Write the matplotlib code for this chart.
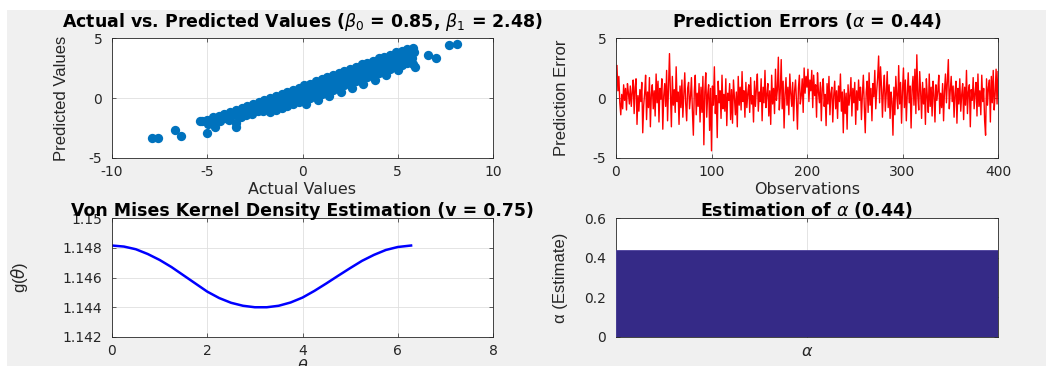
import numpy as np
import matplotlib
matplotlib.use("Agg")
import matplotlib.pyplot as plt
from matplotlib.patches import Rectangle

plt.rcParams['font.family'] = ['DejaVu Sans']
plt.rcParams['mathtext.fontset'] = 'dejavusans'
plt.rcParams['axes.unicode_minus'] = False

# actual vs predicted
actual_vals = [
    -5.3,
    -5.0, -4.95, -4.7, -4.65, -4.4, -4.35, -4.1, -4.05,
    -3.8, -3.75, -3.85, -3.5, -3.45, -3.2, -3.15, -3.25,
    -2.9, -2.85, -2.95, -2.6, -2.55, -2.65, -2.3, -2.25, -2.35,
    -2.0, -1.95, -2.05, -1.7, -1.65, -1.75, -1.7, -1.4, -1.35, -1.45, -1.4,
    -1.1, -1.05, -1.15, -1.1, -0.8, -0.75, -0.85, -0.8,
    -0.5, -0.45, -0.55, -0.5, -0.2, -0.15, -0.25, -0.2,
    0.1, 0.15, 0.05, 0.1, 0.2, 0.4, 0.45, 0.35, 0.4,
    0.7, 0.75, 0.65, 0.7, 0.8, 1.0, 1.05, 0.95, 1.0,
    1.3, 1.35, 1.25, 1.3, 1.4, 1.6, 1.65, 1.55, 1.6,
    1.9, 1.95, 1.85, 1.9, 2.0, 2.2, 2.25, 2.15, 2.2,
    2.5, 2.55, 2.45, 2.5, 2.6, 2.8, 2.85, 2.75, 2.8,
    3.1, 3.15, 3.05, 3.1, 3.2, 3.4, 3.45, 3.35, 3.4,
    3.7, 3.75, 3.65, 3.7, 3.8, 4.0, 4.05, 3.95, 4.0,
    4.3, 4.35, 4.25, 4.3, 4.4, 4.6, 4.65, 4.55, 4.6,
    4.9, 4.95, 4.85, 4.9, 5.0, 5.2, 5.25, 5.15, 5.2,
    5.5, 5.55, 5.45, 5.5, 5.8, 5.85, 5.75, 5.8,
    -7.9, -7.6, -6.7, -6.4, -5.0, -5.4, -4.6, -3.5, -3.5, 6.6, 7.0, 7.7, 8.1, 5.9,
]
predicted_vals = [
    -1.9,
    -1.85, -2.2, -1.6, -2.0, -1.5, -1.9, -1.3, -1.7,
    -1.15, -1.5, -1.8, -1.0, -1.4, -0.85, -1.2, -1.6,
    -0.7, -1.05, -1.4, -0.5, -0.9, -1.3, -0.35, -0.75, -1.1,
    -0.2, -0.6, -1.05, 0.0, -0.4, -0.8, -1.2, 0.15, -0.25, -0.65, -1.0,
    0.35, -0.05, -0.45, -0.85, 0.5, 0.1, -0.3, -0.7,
    0.7, 0.3, -0.1, -0.5, 0.85, 0.45, 0.05, -0.35,
    1.05, 0.65, 0.25, -0.15, -0.5, 1.2, 0.8, 0.4, 0.0,
    1.4, 1.0, 0.6, 0.2, -0.2, 1.55, 1.15, 0.75, 0.35,
    1.75, 1.35, 0.95, 0.55, 0.15, 1.9, 1.5, 1.1, 0.7,
    2.1, 1.7, 1.3, 0.9, 0.5, 2.25, 1.85, 1.45, 1.05,
    2.45, 2.05, 1.65, 1.25, 0.85, 2.6, 2.2, 1.8, 1.4,
    2.8, 2.4, 2.0, 1.6, 1.2, 2.95, 2.55, 2.15, 1.75,
    3.1, 2.7, 2.3, 1.9, 1.5, 3.3, 2.9, 2.5, 2.1,
    3.45, 3.05, 2.65, 2.25, 1.9, 3.6, 3.2, 2.8, 2.4,
    3.8, 3.4, 3.0, 2.6, 2.3, 3.95, 3.55, 3.15, 2.75,
    4.1, 3.7, 3.3, 2.9, 4.2, 3.8, 3.3, 2.8,
    -3.3, -3.3, -2.7, -3.2, -2.9, -1.9, -2.4, -2.1, -2.4, 3.6, 3.3, 4.4, 4.5, 2.6,
]

# prediction errors, observations 1..400
errors = [
    2.7, 0.6, 1.8, -0.4, -1.4, 0.3, -0.9, 1.1, -0.2, 0.8, -1.0, 1.2, 0.4, -0.5, 1.0, -0.7, 0.5, 1.5, -1.3, 0.9,
    1.6, -2.2, 0.2, -1.1, 0.7, -0.3, 1.3, -2.9, -0.6, 0.4, 1.9, -1.8, 0.5, -0.8, 1.7, -2.4, 0.3, 1.1, -0.9, 0.6,
    -1.5, 2.0, -0.4, 1.4, -2.0, 0.8, -0.1, 1.6, -2.6, 0.2, 1.2, -0.7, 2.3, -1.9, 0.9, 3.7, 0.4, -2.4, 1.8, -0.6,
    0.7, -1.2, 2.6, -0.3, 0.5, -2.2, 1.0, -0.8, 1.5, -1.6, 0.3, 2.1, -0.5, -1.9, 0.8, 1.3, -0.9, 0.1, 1.7, -1.1,
    -3.1, 0.6, 1.9, -1.4, 0.4, -0.7, 1.2, -2.0, 0.9, -1.2, 1.8, -3.9, 0.5, 2.1, -1.6, 0.3, 1.1, -2.7, 0.8, -4.4,
    1.0, -0.6, 2.6, -1.3, 0.2, -3.3, 1.4, -0.4, 0.6, -1.7, 1.9, -0.9, 0.3, -1.1, 1.6, -2.3, 0.4, -0.2, 1.2, -1.8,
    0.7, -2.1, 1.5, 0.1, -1.4, 0.5, -2.4, 1.8, -0.6, 0.9, -1.0, 2.2, -0.3, 0.6, -1.6, 1.3, -0.8, 0.4, 1.1, -1.2,
    1.7, -0.5, 0.2, -2.0, 1.4, -0.7, 0.8, 2.0, -1.1, 0.5, -0.3, 1.6, -1.9, 0.9, -0.4, 2.3, -0.8, 0.3, 1.2, -1.5,
    0.6, -2.2, 1.9, -0.5, 0.8, -1.3, 2.4, -0.2, 0.7, 3.4, -1.0, 0.5, 3.2, -0.9, 1.4, -2.5, 0.3, 1.7, -0.6, 0.9,
    -1.4, 2.0, 0.4, -0.7, 1.3, -1.9, 0.6, 1.5, -0.3, -2.6, 0.8, 1.9, -0.5, 0.2, 1.6, -1.2, 2.5, 0.4, 1.8, 0.9,
    2.4, -0.3, 1.5, 0.6, 2.3, -0.8, 1.9, 0.2, 1.1, -1.6, 2.1, 0.5, -0.4, 1.3, -1.9, 0.8, 1.6, -0.7, 0.3, -2.3,
    1.2, -0.5, 1.8, -1.4, 0.4, 0.9, -2.0, 0.2, 1.4, -0.9, 0.6, -1.7, 1.0, -0.3, 2.0, -1.1, 0.5, -2.9, 0.7, -1.3,
    0.4, -2.6, 1.1, -0.6, 0.2, 1.7, -1.5, 0.8, -0.4, 1.3, -2.2, 0.6, -1.0, 1.5, -0.2, 0.9, -1.8, 0.3, 1.9, -0.7,
    -2.9, 0.5, 1.4, -1.2, 2.1, -0.6, 0.8, -1.9, 1.2, 0.1, 2.3, -0.9, 0.6, 1.7, 3.5, -0.4, 2.6, 1.0, -1.6, 0.7,
    1.9, -1.1, 0.4, 2.2, -0.8, 1.1, -1.7, 0.5, -0.3, -3.1, 0.9, -1.4, 1.8, 0.2, -0.9, 2.7, -0.5, 1.3, -2.1, 0.6,
    2.5, -0.8, 1.5, -1.9, 0.3, 2.1, -0.4, 1.0, -2.5, 0.7, 1.8, -0.6, 2.4, -1.3, 3.6, 0.2, -1.0, 2.2, 0.5, -1.7,
    1.3, -0.5, 0.8, -2.2, 1.6, 0.1, -1.2, 2.0, -0.7, 0.9, -1.5, 1.4, 0.3, -2.0, 1.1, -0.2, 0.6, 1.9, -1.3, 0.4,
    -0.8, 1.2, -1.9, 0.7, 2.0, -0.4, 1.5, 3.2, -0.9, 0.6, 1.8, -0.3, 1.0, -1.6, 0.4, 1.4, -2.1, 0.8, -0.5, 1.6,
    -1.1, 0.3, 1.2, -1.8, 0.9, -0.6, 2.3, -1.3, 0.5, 1.1, -2.4, 0.7, -0.2, 1.7, -0.9, 0.4, 1.3, -1.5, 2.0, -0.7,
    0.6, -1.4, 1.9, -0.3, 0.8, -1.9, -3.1, 1.6, -0.6, 0.9, 1.5, -2.0, 1.8, -0.4, 2.3, -1.0, 0.3, 2.4, -0.5, 2.2,
]
obs = np.arange(1, len(errors) + 1)

# von mises kernel density
theta = [0, 0.25, 0.5, 0.75, 1.0, 1.25, 1.5, 1.75, 2.0, 2.25, 2.5, 2.75, 3.0,
         3.25, 3.5, 3.75, 4.0, 4.25, 4.5, 4.75, 5.0, 5.25, 5.5, 5.75, 6.0, 6.28]
g_theta = [1.14815, 1.14808, 1.14790, 1.14758, 1.14718, 1.14670, 1.14615, 1.14560,
           1.14505, 1.14462, 1.14430, 1.14410, 1.14400, 1.14400, 1.14410, 1.14432,
           1.14465, 1.14510, 1.14560, 1.14612, 1.14663, 1.14712, 1.14752, 1.14785,
           1.14805, 1.14815]

alpha_est = [0.44]

W, H = 1046, 366
fig = plt.figure(figsize=(W / 100, H / 100), dpi=100, facecolor='white')
fig.patches.append(Rectangle((7 / W, 0), 1 - 7 / W, 1 - 10 / H, transform=fig.transFigure,
                             facecolor='#f0f0f0', edgecolor='none', zorder=-10))

def box(l, t, r, b):
    return [l / W, 1 - b / H, (r - l) / W, (b - t) / H]

def style(ax):
    ax.set_facecolor('white')
    ax.grid(True, color='#dfdfdf', linewidth=0.6)
    ax.set_axisbelow(True)
    for s in ax.spines.values():
        s.set_color('#262626')
        s.set_linewidth(0.6)
    ax.tick_params(direction='in', length=3, width=0.5, top=True, right=True,
                   labelsize=10, colors='#262626')
    ax.tick_params(axis='x', pad=5)
    ax.tick_params(axis='y', pad=7)

title_kw = dict(fontsize=12.5, fontweight='bold', color='black')
xlabel_kw = dict(fontsize=11.5, color='#262626', va='top')
ylabel_kw = dict(fontsize=12, color='#262626',
                 family=['Liberation Sans Narrow', 'Liberation Sans', 'DejaVu Sans'])

ax1 = fig.add_axes(box(112, 38, 493, 158))
ax1.scatter(actual_vals, predicted_vals, s=45, color='#0072BD', linewidths=0, zorder=3)
ax1.set_xlim(-10, 10)
ax1.set_ylim(-5, 5)
ax1.set_xticks([-10, -5, 0, 5, 10])
ax1.set_yticks([-5, 0, 5])
style(ax1)
ax1.set_title(r'Actual vs. Predicted Values ($\beta_0$ = 0.85, $\beta_1$ = 2.48)', pad=8, **title_kw)
ax1.set_xlabel('Actual Values', **xlabel_kw)
ax1.xaxis.set_label_coords(0.5, -0.2)
ax1.set_ylabel('Predicted Values', **ylabel_kw)
ax1.yaxis.set_label_coords(-0.112, 0.5)

ax2 = fig.add_axes(box(616, 38, 998, 158))
ax2.plot(obs, errors, color='red', linewidth=1.0)
ax2.set_xlim(0, 400)
ax2.set_ylim(-5, 5)
ax2.set_xticks([0, 100, 200, 300, 400])
ax2.set_yticks([-5, 0, 5])
style(ax2)
ax2.set_title(r'Prediction Errors ($\alpha$ = 0.44)', pad=8, **title_kw)
ax2.set_xlabel('Observations', **xlabel_kw)
ax2.xaxis.set_label_coords(0.5, -0.2)
ax2.set_ylabel('Prediction Error', **ylabel_kw)
ax2.yaxis.set_label_coords(-0.122, 0.5)

ax3 = fig.add_axes(box(112, 218, 493, 337))
ax3.plot(theta, g_theta, color='blue', linewidth=1.8)
ax3.set_xlim(0, 8)
ax3.set_ylim(1.142, 1.15)
ax3.set_xticks([0, 2, 4, 6, 8])
ax3.set_yticks([1.142, 1.144, 1.146, 1.148, 1.15])
ax3.set_yticklabels(['1.142', '1.144', '1.146', '1.148', '1.15'])
style(ax3)
ax3.set_title('Von Mises Kernel Density Estimation (v = 0.75)', pad=1.5, **title_kw)
ax3.set_xlabel(r'$\theta$', **xlabel_kw)
ax3.xaxis.set_label_coords(0.5, -0.18)
ax3.set_ylabel(r'g($\theta$)', **ylabel_kw)
ax3.yaxis.set_label_coords(-0.215, 0.5)

ax4 = fig.add_axes(box(616, 218, 998, 337))
ax4.bar([1], alpha_est, width=0.8, color='#352A87', edgecolor='#4b3f9c', linewidth=0.6, zorder=3)
ax4.set_xlim(0.6, 1.4)
ax4.set_ylim(0, 0.6)
ax4.set_xticks([1])
ax4.set_xticklabels([''])
ax4.set_yticks([0, 0.2, 0.4, 0.6])
ax4.set_yticklabels(['0', '0.2', '0.4', '0.6'])
style(ax4)
ax4.set_title(r'Estimation of $\alpha$ (0.44)', pad=1.5, **title_kw)
ax4.set_xlabel(r'$\alpha$', **xlabel_kw)
ax4.xaxis.set_label_coords(0.5, -0.06)
ax4.set_ylabel('α (Estimate)', **ylabel_kw)
ax4.yaxis.set_label_coords(-0.126, 0.5)

fig.savefig('out.png', dpi=100, facecolor=fig.get_facecolor())
